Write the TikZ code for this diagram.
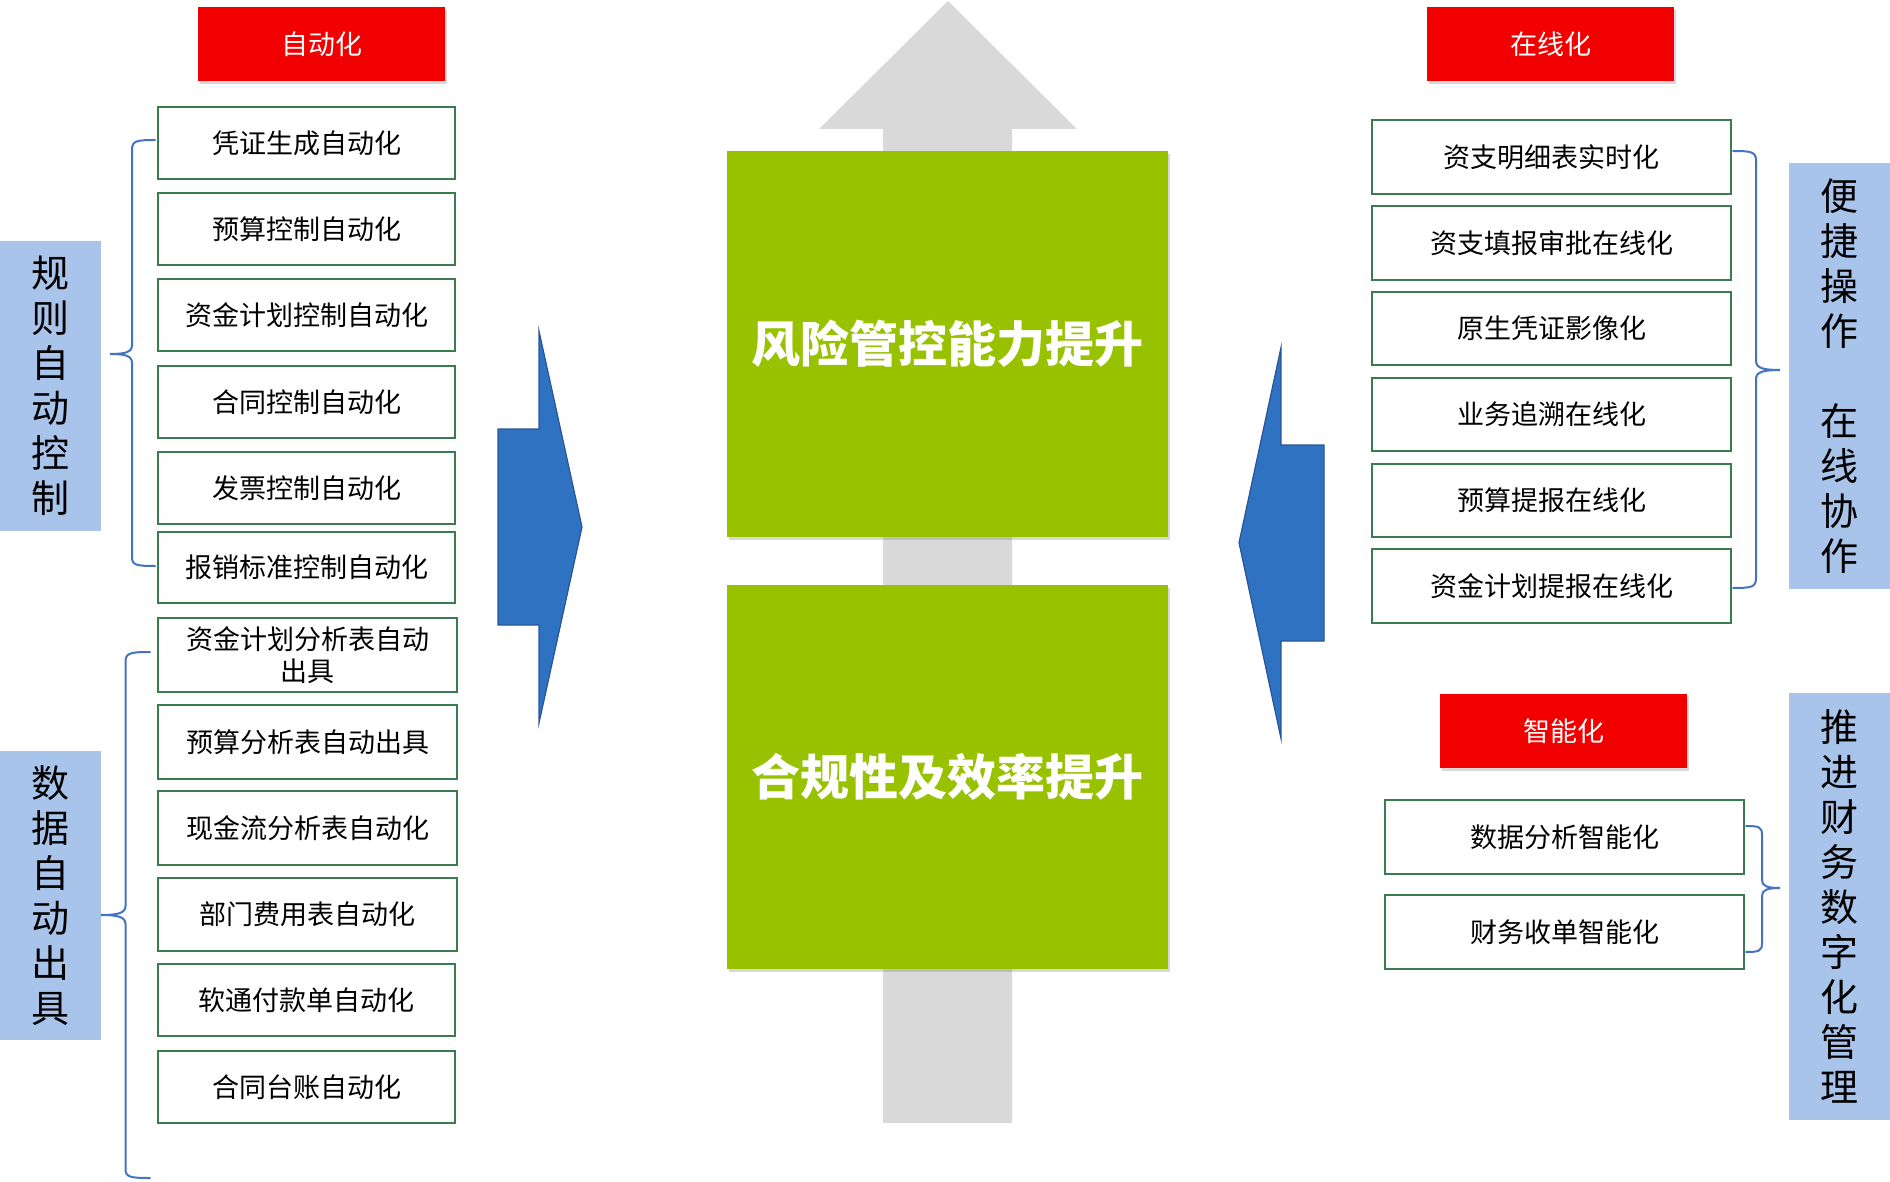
\documentclass[tikz,border=0pt]{standalone}
\usepackage{fontspec}
\newfontfamily\cjk{Noto Sans CJK SC}
\usetikzlibrary{shadows}
\definecolor{boxgreen}{RGB}{60,122,80}
\definecolor{lime}{RGB}{152,193,0}
\definecolor{arrowblue}{RGB}{47,114,194}
\definecolor{arrowedge}{RGB}{42,85,151}
\definecolor{labelblue}{RGB}{169,196,235}
\definecolor{bracecol}{RGB}{68,114,196}
\definecolor{redbox}{RGB}{242,0,0}
\definecolor{shaftgray}{RGB}{217,217,217}
\tikzset{
  itembox/.style={draw=boxgreen, line width=2.4pt, fill=white, inner sep=0pt, align=center,
    font=\cjk\fontsize{27}{32}\selectfont, text=black},
  redtag/.style={fill=redbox, inner sep=0pt, minimum width=247pt, minimum height=74pt,
    font=\cjk\fontsize{27}{32}\selectfont, text=white,
    drop shadow={shadow xshift=2pt, shadow yshift=-3pt, opacity=0.3}},
  bigbox/.style={fill=lime, inner sep=0pt, minimum width=441pt, align=center,
    font=\cjk\bfseries\fontsize{49}{56}\selectfont, text=white,
    drop shadow={shadow xshift=2pt, shadow yshift=-3pt, opacity=0.3}},
  sidelabel/.style={fill=labelblue, inner sep=0pt, minimum width=101pt, align=center,
    font=\cjk\fontsize{38}{45}\selectfont, text=black},
  blockarrow/.style={fill=arrowblue, draw=arrowedge, line width=1.2pt, line join=miter},
  bracepath/.style={draw=bracecol, line width=2pt, line cap=round},
}
\begin{document}
\begin{tikzpicture}[x=1pt,y=-1pt]
\useasboundingbox (0,0) rectangle (1890,1182);
\fill[white] (0,0) rectangle (1890,1182);

% gray up arrow
\fill[shaftgray] (948,1) -- (1077,129) -- (1012,129) -- (1012,1123) -- (883,1123) -- (883,129) -- (819,129) -- cycle;

% big green boxes
\node[bigbox, minimum height=385pt] (risk) at (947.5,344) {风险管控能力提升};
\node[bigbox, minimum height=384pt] (comp) at (947.5,776.6) {合规性及效率提升};

% blue block arrows
\path[blockarrow] (498,429) -- (539,429) -- (539,331) -- (582,527) -- (539,723) -- (539,625) -- (498,625) -- cycle;
\path[blockarrow] (1324,445) -- (1281,445) -- (1281,347.5) -- (1239,542.7) -- (1281,738.5) -- (1281,641) -- (1324,641) -- cycle;

% red tags
\node[redtag] (tagauto) at (321.5,44) {自动化};
\node[redtag] (tagonline) at (1550.5,44) {在线化};
\node[redtag] (tagsmart) at (1563.75,731) {智能化};

% side labels
\node[sidelabel, minimum height=290pt] (lab1) at (50.5,386) {规\\则\\自\\动\\控\\制};
\node[sidelabel, minimum height=289pt] (lab2) at (50.5,895.5) {数\\据\\自\\动\\出\\具};
\node[sidelabel, minimum height=426pt] (lab3) at (1839.5,376) {便\\捷\\操\\作\\~\\在\\线\\协\\作};
\node[sidelabel, minimum height=427pt] (lab4) at (1839.5,906.5) {推\\进\\财\\务\\数\\字\\化\\管\\理};

% left item boxes
\node[itembox, minimum width=297pt, minimum height=72pt] (l1) at (306.5,143) {凭证生成自动化};
\node[itembox, minimum width=297pt, minimum height=72pt] (l2) at (306.5,229) {预算控制自动化};
\node[itembox, minimum width=297pt, minimum height=72pt] (l3) at (306.5,315) {资金计划控制自动化};
\node[itembox, minimum width=297pt, minimum height=72pt] (l4) at (306.5,402) {合同控制自动化};
\node[itembox, minimum width=297pt, minimum height=72pt] (l5) at (306.5,488) {发票控制自动化};
\node[itembox, minimum width=297pt, minimum height=71pt] (l6) at (306.5,567.5) {报销标准控制自动化};
\node[itembox, minimum width=299pt, minimum height=74pt] (l7) at (307.5,655) {资金计划分析表自动\\出具};
\node[itembox, minimum width=299pt, minimum height=74pt] (l8) at (307.5,742) {预算分析表自动出具};
\node[itembox, minimum width=299pt, minimum height=74pt] (l9) at (307.5,828) {现金流分析表自动化};
\node[itembox, minimum width=299pt, minimum height=73pt] (l10) at (307.5,914.5) {部门费用表自动化};
\node[itembox, minimum width=297pt, minimum height=72pt] (l11) at (306.5,1000) {软通付款单自动化};
\node[itembox, minimum width=297pt, minimum height=72pt] (l12) at (306.5,1087) {合同台账自动化};

% right item boxes
\node[itembox, minimum width=359pt, minimum height=74pt] (r1) at (1551.5,157) {资支明细表实时化};
\node[itembox, minimum width=359pt, minimum height=74pt] (r2) at (1551.5,243) {资支填报审批在线化};
\node[itembox, minimum width=359pt, minimum height=73pt] (r3) at (1551.5,328.5) {原生凭证影像化};
\node[itembox, minimum width=359pt, minimum height=73pt] (r4) at (1551.5,414.5) {业务追溯在线化};
\node[itembox, minimum width=359pt, minimum height=73pt] (r5) at (1551.5,500.5) {预算提报在线化};
\node[itembox, minimum width=359pt, minimum height=74pt] (r6) at (1551.5,586) {资金计划提报在线化};
\node[itembox, minimum width=359pt, minimum height=74pt] (s1) at (1564.5,837) {数据分析智能化};
\node[itembox, minimum width=359pt, minimum height=74pt] (s2) at (1564.5,932) {财务收单智能化};

% braces
\draw[bracepath] (155,140) .. controls (136,140) and (132,141) .. (132,150) -- (132,345)
  .. controls (132,352) and (126,354) .. (110,354) .. controls (126,354) and (132,356) .. (132,363)
  -- (132,557) .. controls (132,565) and (136,566) .. (155,566);
\draw[bracepath] (150,652) .. controls (130,652) and (125.5,653) .. (125.5,662) -- (125.5,906)
  .. controls (125.5,913) and (118,915) .. (101,915) .. controls (118,915) and (125.5,917) .. (125.5,924)
  -- (125.5,1169) .. controls (125.5,1177) and (130,1178) .. (150,1178);
\draw[bracepath] (1733,151) .. controls (1752,151) and (1756,152) .. (1756,161) -- (1756,361)
  .. controls (1756,368) and (1763,370) .. (1780,370) .. controls (1763,370) and (1756,372) .. (1756,379)
  -- (1756,578) .. controls (1756,587) and (1752,588) .. (1733,588);
\draw[bracepath] (1746,826) .. controls (1759,826) and (1762,827) .. (1762,835) -- (1762,880)
  .. controls (1762,886) and (1767,888) .. (1780,888) .. controls (1767,888) and (1762,890) .. (1762,896)
  -- (1762,943) .. controls (1762,951) and (1759,952) .. (1746,952);
\end{tikzpicture}
\end{document}
